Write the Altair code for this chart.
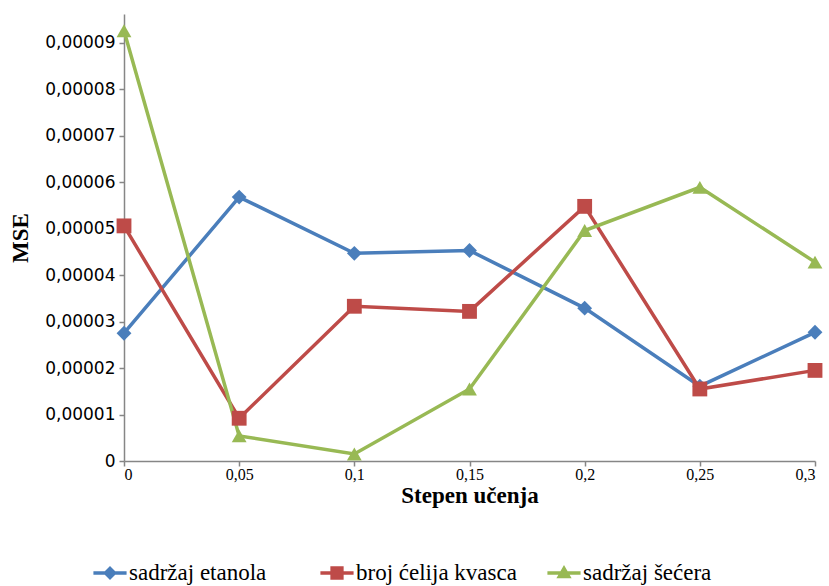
import altair as alt
import pandas as pd

# Learning rate values (x axis)
rates = [0.0, 0.05, 0.1, 0.15, 0.2, 0.25, 0.3]

# MSE per series
etanol = [2.75e-5, 5.68e-5, 4.47e-5, 4.53e-5, 3.29e-5, 1.61e-5, 2.77e-5]
kvasac = [5.06e-5, 0.92e-5, 3.33e-5, 3.22e-5, 5.48e-5, 1.55e-5, 1.95e-5]
secer = [9.26e-5, 0.54e-5, 0.15e-5, 1.55e-5, 4.96e-5, 5.89e-5, 4.28e-5]

series_names = ["sadržaj etanola", "broj ćelija kvasca", "sadržaj šećera"]
series_values = [etanol, kvasac, secer]

y_ticks = [0, 1e-5, 2e-5, 3e-5, 4e-5, 5e-5, 6e-5, 7e-5, 8e-5, 9e-5]

rows = []
for name, vals in zip(series_names, series_values):
    for r, v in zip(rates, vals):
        rows.append({"rate": r, "mse": v, "series": name})
df = pd.DataFrame(rows)

colors = ["#4A7EBB", "#BE4B48", "#98B954"]
marker_shapes = ["diamond", "square", "triangle-up"]

# Legend glyphs: a short line with the series marker on top
bar = "M-1,-0.1H1V0.1H-1Z "
legend_shapes = [
    bar + "M0,-0.42L0.42,0L0,0.42L-0.42,0Z",
    bar + "M-0.4,-0.4H0.4V0.4H-0.4Z",
    bar + "M0,-0.48L0.46,0.32L-0.46,0.32Z",
]

x_enc = alt.X(
    "rate:Q",
    title="Stepen učenja",
    scale=alt.Scale(domain=[0, 0.3], nice=False, zero=False),
    axis=alt.Axis(
        values=rates,
        labelExpr="replace(format(datum.value, '.2~f'), '.', ',')",
    ),
)
y_enc = alt.Y(
    "mse:Q",
    title="MSE",
    scale=alt.Scale(domain=[0, 0.0000962], nice=False),
    axis=alt.Axis(
        values=y_ticks,
        labelExpr="replace(format(datum.value, '.5~f'), '.', ',')",
    ),
)


def color_enc(legend):
    return alt.Color(
        "series:N",
        scale=alt.Scale(domain=series_names, range=colors),
        sort=series_names,
        legend=legend,
    )


base = alt.Chart(df)

lines = base.mark_line(strokeWidth=3.5).encode(
    x=x_enc, y=y_enc, color=color_enc(None)
)

markers = base.mark_point(filled=True, opacity=1, size=220).encode(
    x=x_enc,
    y=y_enc,
    color=color_enc(None),
    shape=alt.Shape(
        "series:N",
        scale=alt.Scale(domain=series_names, range=marker_shapes),
        legend=None,
    ),
)

# Invisible points whose only job is the combined line+marker legend
legend_layer = base.mark_point(filled=True, opacity=1, size=0).encode(
    x=x_enc,
    y=y_enc,
    color=color_enc(alt.Legend(title=None)),
    shape=alt.Shape(
        "series:N",
        scale=alt.Scale(domain=series_names, range=legend_shapes),
        sort=series_names,
        legend=alt.Legend(title=None),
    ),
)

chart = (
    alt.layer(lines, markers, legend_layer)
    .resolve_scale(shape="independent", color="independent")
    .properties(
        width=691,
        height=447,
        autosize=alt.AutoSizeParams(type="none"),
        padding={"left": 124, "top": 14, "right": 14, "bottom": 125},
    )
    .configure_view(stroke=None)
    .configure_axis(
        grid=False,
        domainColor="#868686",
        domainWidth=1.5,
        tickColor="#868686",
        tickWidth=1.5,
        tickSize=5,
        labelColor="#000000",
        titleColor="#000000",
        titleFont="Liberation Serif",
        titleFontSize=23,
        titleFontWeight="bold",
    )
    .configure_axisX(
        labelFont="Liberation Serif",
        labelFontSize=16,
        labelPadding=0,
        titlePadding=2,
    )
    .configure_axisY(
        labelFont="DejaVu Sans",
        labelFontSize=17,
        labelPadding=4,
        titlePadding=12,
    )
    .configure_legend(
        orient="none",
        direction="horizontal",
        legendX=-31,
        legendY=542,
        symbolSize=1100,
        symbolStrokeWidth=0,
        labelFont="Liberation Serif",
        labelFontSize=23,
        labelLimit=400,
        labelColor="#000000",
        gridAlign="all",
        columnPadding=30,
        labelOffset=2,
    )
)

chart.save("out.html", embed_options={"renderer": "svg", "actions": False})
